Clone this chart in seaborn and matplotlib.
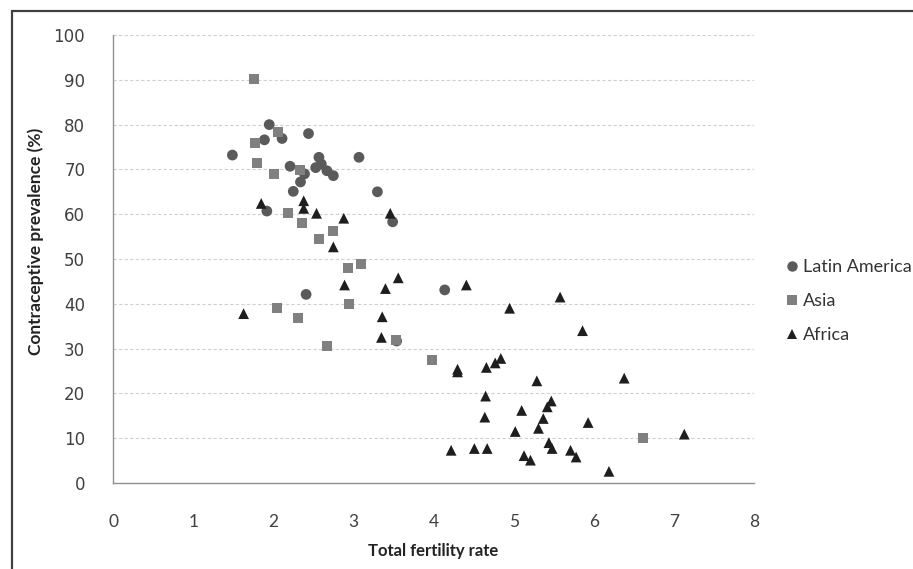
import matplotlib
matplotlib.use("Agg")
import matplotlib.pyplot as plt
import seaborn as sns
import pandas as pd
from matplotlib.patches import Rectangle
from matplotlib.lines import Line2D

# ---- data ----
regions = ["Latin America", "Asia", "Africa"]

la_x = [1.49, 1.95, 1.89, 2.11, 2.44, 2.57, 3.07, 2.21, 2.53, 2.60, 2.67, 2.75,
        2.39, 2.34, 2.25, 3.30, 1.92, 3.49, 2.41, 4.14, 3.54]
la_y = [73.2, 80.0, 76.6, 76.9, 78.0, 72.7, 72.7, 70.7, 70.4, 71.2, 69.7, 68.6,
        69.0, 67.2, 65.1, 65.0, 60.7, 58.3, 42.1, 43.1, 31.7]

asia_x = [1.76, 2.06, 1.77, 1.80, 2.01, 2.33, 2.18, 2.36, 2.74, 2.57, 2.93, 3.10,
          2.05, 2.94, 2.31, 3.53, 2.67, 3.98, 6.62]
asia_y = [90.1, 78.4, 75.8, 71.5, 69.0, 69.8, 60.3, 58.1, 56.2, 54.4, 47.9, 48.8,
          39.0, 39.9, 36.9, 32.0, 30.6, 27.4, 10.1]

africa_x = [1.85, 2.38, 2.38, 2.54, 2.88, 3.46, 2.75, 3.56, 2.89, 3.40, 1.63, 3.36,
            3.35, 4.41, 5.58, 4.95, 5.86, 4.30, 4.30, 4.66, 4.77, 4.84, 5.29, 6.38,
            4.65, 5.47, 5.42, 5.10, 4.64, 5.37, 5.93, 5.31, 5.02, 7.13, 5.44, 5.48,
            4.22, 4.51, 4.67, 5.13, 5.21, 5.71, 5.78, 6.19]
africa_y = [62.4, 63.0, 61.3, 60.2, 59.1, 60.2, 52.7, 45.8, 44.2, 43.4, 37.8, 37.1,
            32.5, 44.2, 41.5, 39.0, 34.0, 25.4, 24.8, 25.8, 26.8, 27.8, 22.8, 23.4,
            19.4, 18.3, 17.0, 16.2, 14.7, 14.4, 13.5, 12.2, 11.5, 10.9, 9.0, 7.7,
            7.3, 7.7, 7.7, 6.1, 5.1, 7.3, 5.8, 2.6]

x_ticks = [0, 1, 2, 3, 4, 5, 6, 7, 8]
y_ticks = [0, 10, 20, 30, 40, 50, 60, 70, 80, 90, 100]

df = pd.concat([
    pd.DataFrame({"tfr": la_x, "cp": la_y, "region": "Latin America"}),
    pd.DataFrame({"tfr": asia_x, "cp": asia_y, "region": "Asia"}),
    pd.DataFrame({"tfr": africa_x, "cp": africa_y, "region": "Africa"}),
], ignore_index=True)

palette = {"Latin America": "#5a5a5a", "Asia": "#808080", "Africa": "#1e1e1e"}
markers = {"Latin America": "o", "Asia": "s", "Africa": "^"}
sizes_pt = {"Latin America": 60, "Asia": 52, "Africa": 60}

sns.set_style("white")
plt.rcParams["font.family"] = ["DejaVu Sans"]

fig = plt.figure(figsize=(9.13, 5.69), dpi=100)
ax = fig.add_axes([113 / 913, 1 - 483 / 569, 641 / 913, 448 / 569])

for r in regions:
    sns.scatterplot(data=df[df.region == r], x="tfr", y="cp", color=palette[r],
                    marker=markers[r], s=sizes_pt[r], edgecolor="none",
                    linewidth=0, ax=ax, legend=False, zorder=3)

ax.set_xlim(0, 8)
ax.set_ylim(0, 100)
ax.set_xticks(x_ticks)
ax.set_yticks(y_ticks)
ax.set_xticklabels([str(t) for t in x_ticks], fontfamily=["Liberation Sans Narrow", "Lato"],
                   fontsize=12.5, color="#404040")
ax.set_yticklabels([str(t) for t in y_ticks], fontfamily="DejaVu Sans",
                   fontsize=12, color="#404040")
ax.tick_params(axis="both", length=0)
ax.tick_params(axis="x", pad=22)
ax.tick_params(axis="y", pad=20)

for yv in y_ticks[1:]:
    ax.axhline(yv, color="#d0d0d0", lw=0.8, ls=(0, (3, 2)), zorder=1)

for s in ["top", "right"]:
    ax.spines[s].set_visible(False)
for s in ["left", "bottom"]:
    ax.spines[s].set_color("#909090")
    ax.spines[s].set_linewidth(1.0)

ax.set_xlabel("Total fertility rate", fontfamily="Lato", fontweight="bold",
              fontsize=12, color="#222222")
ax.set_ylabel("Contraceptive prevalence (%)", fontfamily="Lato", fontweight="bold",
              fontsize=12.5, color="#222222")
ax.xaxis.set_label_coords(0.5, -0.135)
ax.yaxis.set_label_coords(-0.108, 0.54)

handles = [Line2D([], [], linestyle="none", marker=markers[r], color=palette[r],
                  markersize=7.5, markeredgewidth=0) for r in regions]
leg = fig.legend(handles, regions, loc="center left",
                 bbox_to_anchor=(783 / 913, 1 - 301 / 569), frameon=False,
                 prop={"family": "Lato", "size": 13}, handletextpad=0.1,
                 labelspacing=1.0, handlelength=1.0, borderaxespad=0, borderpad=0)
for t in leg.get_texts():
    t.set_color("#333333")

fig.patches.append(Rectangle((12 / 913, -0.1), 2.0, 1 - 11 / 569 + 0.1,
                             transform=fig.transFigure, fill=False,
                             edgecolor="#404040", linewidth=1.6))

fig.savefig("out.png", dpi=100)
